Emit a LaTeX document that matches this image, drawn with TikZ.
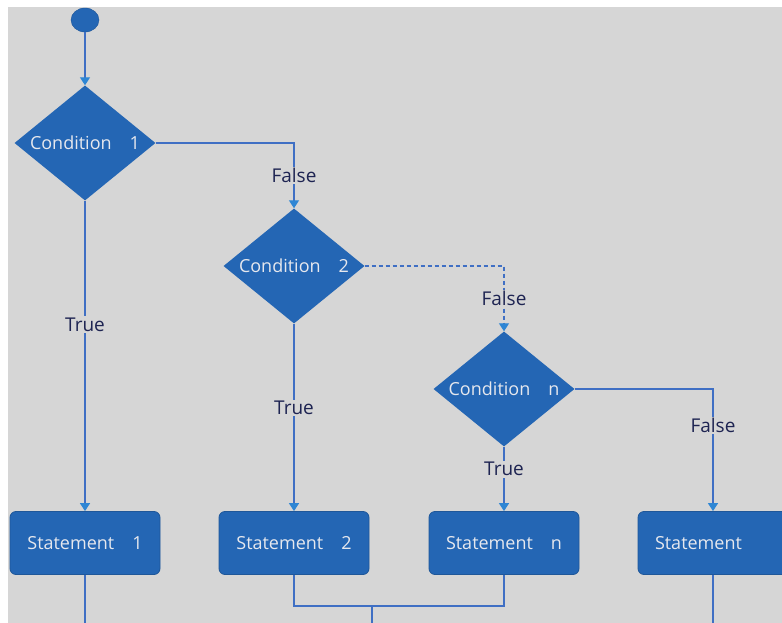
\documentclass[tikz,border=0pt]{standalone}
\usepackage{fontspec}
\setmainfont{Open Sans}
\usetikzlibrary{shapes.geometric,arrows.meta}

\definecolor{sfondo}{HTML}{D6D6D6}
\definecolor{blu}{HTML}{2466B4}
\definecolor{linea}{HTML}{3F6FC4}
\definecolor{punta}{HTML}{2E86D4}
\definecolor{scuro}{HTML}{1E2452}
\definecolor{chiaro}{HTML}{E6E8EE}

\newcommand{\centrato}[1]{\makebox[0pt][c]{#1}}

\tikzset{
    cond/.style={diamond, fill=blu, text=chiaro, minimum width=141pt, minimum height=115pt,
        inner sep=0pt, font=\fontsize{18}{20}\selectfont},
    stmt/.style={rectangle, rounded corners=6pt, fill=blu, draw=blu!85!black, line width=0.8pt,
        minimum width=150pt, minimum height=63pt, text=chiaro, font=\fontsize{18}{20}\selectfont},
    freccia/.style={draw=linea, line width=1.3pt, -{Triangle[width=10pt,length=8pt,color=punta]}},
    linea/.style={draw=linea, line width=1.3pt},
    etichetta/.style={fill=sfondo, text=scuro, inner sep=1.5pt, font=\fontsize{19}{21}\selectfont}
}

\begin{document}
\begin{tikzpicture}[x=1pt, y=-1pt]
    % Sfondo
    \useasboundingbox (0,0) rectangle (782,623);
    \fill[sfondo] (8,7) rectangle (782,623);

    % Nodi
    \node[ellipse, fill=blu, draw=blu!85!black, minimum width=28pt, minimum height=24pt, inner sep=0pt] (inizio) at (85,20) {};
    \node[cond] (c1) at (85,143) {\centrato{Condition\quad 1}};
    \node[cond] (c2) at (294,266) {\centrato{Condition\quad 2}};
    \node[cond] (cn) at (504,389) {\centrato{Condition\quad n}};
    \node[stmt] (s1) at (85,543) {Statement\quad 1};
    \node[stmt] (s2) at (294,543) {Statement\quad 2};
    \node[stmt] (sn) at (504,543) {Statement\quad n};
    \node[stmt] (s) at (713,543) {Statement\hphantom{\quad n}};

    % Punti di uscita
    \coordinate (fine1) at (85,623);
    \coordinate (unione) at (372,606);
    \coordinate (fine2) at (372,623);
    \coordinate (fine3) at (713,623);

    % Collegamenti
    \draw[freccia] (inizio) -- (c1.north);
    \draw[freccia] (c1.south) -- node[etichetta, pos=0.40] {True} (s1.north);
    \draw[freccia] (c1.east) -| node[etichetta, pos=0.75] {False} (c2.north);
    \draw[freccia] (c2.south) -- node[etichetta, pos=0.45] {True} (s2.north);
    \draw[freccia, dash pattern=on 4pt off 3pt] (c2.east) -| node[etichetta, pos=0.75] {False} (cn.north);
    \draw[freccia] (cn.south) -- node[etichetta, pos=0.35] {True} (sn.north);
    \draw[freccia] (cn.east) -| node[etichetta, pos=0.65] {False} (s.north);

    % Uscite
    \draw[linea] (s1.south) -- (fine1);
    \draw[linea] (s2.south) |- (unione) -| (sn.south);
    \draw[linea] (unione) -- (fine2);
    \draw[linea] (s.south) -- (fine3);
\end{tikzpicture}
\end{document}
